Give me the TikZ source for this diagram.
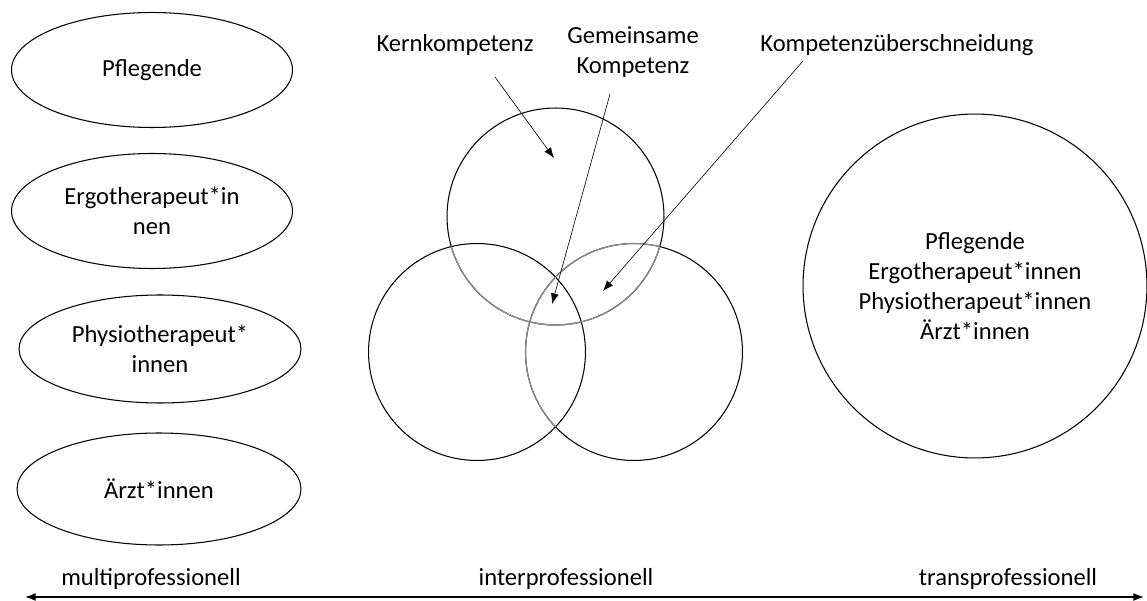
\documentclass[tikz,border=0pt]{standalone}
\usepackage{fontspec}
\setmainfont{Carlito}
\usetikzlibrary{shapes.geometric,arrows.meta}
\definecolor{mygray}{rgb}{0.55,0.55,0.55}

\begin{document}
\begin{tikzpicture}[x=0.02cm, y=-0.02cm,
    font=\fontsize{14}{17}\selectfont,
    profession/.style = {draw, ellipse, line width=0.6pt, align=center, inner sep=0pt},
    venn/.style = {draw, circle, line width=0.6pt, minimum size=4.34cm, inner sep=0pt},
    pointer/.style = {-{Latex[length=6pt,width=4.5pt]}, line width=0.35pt}]
    \useasboundingbox (0,0) rectangle (1147,601);

    % multiprofessionell: die Berufe nebeneinander
    \node[profession, minimum width=5.62cm, minimum height=2.30cm] (pfl) at (152,70) {Pflegende};
    \node[profession, minimum width=5.62cm, minimum height=2.30cm] (ergo) at (152,211) {Ergotherapeut*in\\nen};
    \node[profession, minimum width=5.64cm, minimum height=2.16cm] (physio) at (160,349) {Physiotherapeut*\\innen};
    \node[profession, minimum width=5.68cm, minimum height=2.24cm] (arzt) at (159,489) {Ärzt*innen};

    % interprofessionell
    \node[venn] (vtop) at (555.5,216.5) {};
    \node[venn] (vleft) at (477,352) {};
    \node[venn] (vright) at (634,352) {};
    \begin{scope}
      \clip (vleft.center) circle [radius=2.17cm];
      \draw[mygray, line width=0.7pt] (vtop.center) circle [radius=2.17cm] (vright.center) circle [radius=2.17cm];
    \end{scope}
    \begin{scope}
      \clip (vright.center) circle [radius=2.17cm];
      \draw[mygray, line width=0.7pt] (vtop.center) circle [radius=2.17cm];
    \end{scope}
    \begin{scope}
      \clip (vtop.center) circle [radius=2.17cm];
      \draw[mygray, line width=0.7pt] (vright.center) circle [radius=2.17cm];
    \end{scope}

    \node (kern) at (455,45) {Kernkompetenz};
    \node[align=center] (gem) at (633,52) {Gemeinsame\\Kompetenz};
    \node (ueber) at (897,45) {Kompetenzüberschneidung};

    \coordinate (kern-a) at (495,77);
    \coordinate (kern-b) at (554,158);
    \coordinate (gem-a) at (610,94);
    \coordinate (gem-b) at (552,304);
    \coordinate (ueber-a) at (803,61);
    \coordinate (ueber-b) at (603,291);
    \draw[pointer] (kern-a) -- (kern-b);
    \draw[pointer] (gem-a) -- (gem-b);
    \draw[pointer] (ueber-a) -- (ueber-b);

    % transprofessionell
    \node[venn, minimum size=6.88cm, align=center] (team) at (975,286)
      {Pflegende\\Ergotherapeut*innen\\Physiotherapeut*innen\\Ärzt*innen};

    % Achse unten
    \node (multi) at (151,579) {multiprofessionell};
    \node (inter) at (566,579) {interprofessionell};
    \node (trans) at (1008,579) {transprofessionell};
    \coordinate (axis-l) at (25,597);
    \coordinate (axis-r) at (1144,597);
    \draw[{Latex[length=6pt,width=4.5pt]}-{Latex[length=6pt,width=4.5pt]}, line width=0.8pt] (axis-l) -- (axis-r);
\end{tikzpicture}
\end{document}
